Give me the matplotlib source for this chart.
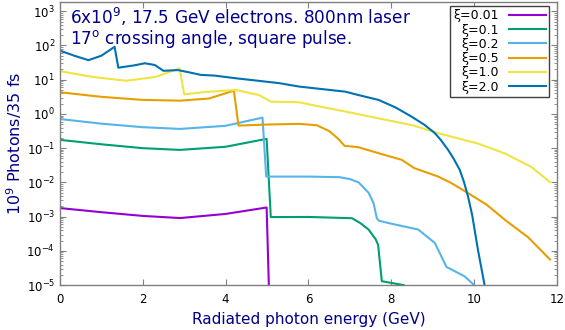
import numpy as np
import matplotlib
matplotlib.use("Agg")
import matplotlib.pyplot as plt
from matplotlib.ticker import LogLocator, NullFormatter, FixedLocator

# ---------------------------------------------------------------
# data (energy in GeV, photons in 1e9/35 fs)
# ---------------------------------------------------------------
e_001 = [0, 1, 2, 2.9, 4, 4.99, 5.05]
v_001 = [1.78e-3, 1.35e-3, 1.05e-3, 9.1e-4, 1.2e-3, 1.85e-3, 5e-6]

e_01 = [0, 1, 2, 2.9, 4, 4.99, 5.09, 6, 7.05, 7.25, 7.45, 7.62, 7.68, 7.77, 8.3]
v_01 = [0.175, 0.13, 0.10, 0.089, 0.11, 0.187, 9.7e-4, 9.8e-4, 9.0e-4,
        6.5e-4, 4.2e-4, 2.2e-4, 1.5e-4, 1.3e-5, 1.0e-5]

e_02 = [0, 1, 2, 2.9, 4, 4.89, 4.98, 6, 6.75, 7.0, 7.21, 7.45, 7.57, 7.65,
        7.70, 7.93, 8.65, 9.05, 9.33, 9.77, 10.0]
v_02 = [0.71, 0.52, 0.41, 0.365, 0.45, 0.78, 0.0148, 0.0148, 0.0142, 0.0125,
        0.010, 5.0e-3, 2.5e-3, 8.9e-4, 7.6e-4, 6.5e-4, 4.2e-4, 1.7e-4,
        3.4e-5, 1.8e-5, 1.0e-5]

e_05 = [0, 1, 2, 2.9, 3.6, 4.2, 4.31, 5.0, 5.77, 6.2, 6.5, 6.73, 6.87, 7.2,
        7.7, 8.25, 8.55, 9.13, 9.45, 9.9, 10.3, 10.75, 11.3, 11.83]
v_05 = [4.3, 3.16, 2.57, 2.44, 2.82, 4.79, 0.457, 0.49, 0.513, 0.468, 0.316,
        0.182, 0.117, 0.107, 0.0708, 0.0457, 0.0263, 0.0148, 0.00955,
        0.00447, 0.00224, 7.9e-4, 2.5e-4, 5.6e-5]

e_10 = [0, 0.8, 1.6, 2.3, 2.89, 3.0, 3.5, 4.25, 4.81, 5.09, 5.77, 6.5, 6.9,
        7.7, 8.5, 9.13, 10.1, 10.73, 11.37, 11.83]
v_10 = [17.8, 12.0, 9.3, 12.0, 21.4, 3.72, 4.37, 5.0, 3.55, 2.29, 2.19, 1.45,
        1.17, 0.74, 0.47, 0.275, 0.135, 0.0708, 0.0288, 0.0102]

e_20 = [0, 0.35, 0.69, 1.0, 1.32, 1.41, 1.8, 2.05, 2.29, 2.5, 2.85, 3.1, 3.4,
        3.73, 4.25, 5.29, 5.77, 6.89, 7.21, 7.69, 8.1, 8.49, 8.8, 9.05, 9.2,
        9.37, 9.5, 9.65, 9.75, 9.85, 9.95, 10.09, 10.25]
v_20 = [70.8, 50.1, 37.2, 50.1, 91.2, 22.4, 26.3, 30.2, 26.9, 18.2, 19.1,
        16.6, 13.8, 13.2, 11.0, 7.94, 6.31, 4.47, 3.55, 2.57, 1.55, 0.83,
        0.48, 0.275, 0.17, 0.089, 0.05, 0.0234, 0.0105, 3.9e-3, 1.12e-3,
        1.07e-4, 1.0e-5]

labels = ["ξ=0.01", "ξ=0.1", "ξ=0.2", "ξ=0.5", "ξ=1.0", "ξ=2.0"]
colors = ["#9400d3", "#009e73", "#56b4e9", "#e69f00", "#f0e442", "#0072b2"]
series = [(e_001, v_001), (e_01, v_01), (e_02, v_02),
          (e_05, v_05), (e_10, v_10), (e_20, v_20)]

x_ticks = [0, 2, 4, 6, 8, 10, 12]
y_ticks = [1e-5, 1e-4, 1e-3, 1e-2, 1e-1, 1e0, 1e1, 1e2, 1e3]

navy = "#00008b"
frame = "#808080"

plt.rcParams["font.family"] = ["DejaVu Sans"]
plt.rcParams["mathtext.fontset"] = "dejavusans"

fig = plt.figure(figsize=(5.65, 3.3), dpi=100)
ax = fig.add_axes([0.106, 0.136, 0.880, 0.858])

for (e, v), lab, col in zip(series, labels, colors):
    ax.plot(e, v, color=col, linewidth=1.5, label=lab)

ax.set_yscale("log")
ax.set_xlim(0, 12)
ax.set_ylim(1e-5, 10 ** 3.27)

ax.xaxis.set_major_locator(FixedLocator(x_ticks))
ax.set_xticklabels([str(t) for t in x_ticks])
ax.yaxis.set_major_locator(FixedLocator(y_ticks))
ax.set_yticklabels([r"$10^{%d}$" % int(np.log10(t)) for t in y_ticks])
ax.yaxis.set_minor_locator(LogLocator(base=10, subs=np.arange(2, 10), numticks=20))
ax.yaxis.set_minor_formatter(NullFormatter())

ax.tick_params(which="both", direction="in", top=True, right=True,
               color=frame, labelsize=8.5, labelcolor="black")
ax.tick_params(which="major", length=4)
ax.tick_params(which="minor", length=2)
ax.tick_params(axis="x", pad=6)
for sp in ax.spines.values():
    sp.set_color(frame)
    sp.set_linewidth(1.0)

ax.set_xlabel("Radiated photon energy (GeV)", color=navy, fontsize=11, labelpad=4)
ax.set_ylabel(r"$10^9$ Photons/35 fs", color=navy, fontsize=11.5, labelpad=2)

ax.text(0.02, 0.985, "6x10$^9$, 17.5 GeV electrons. 800nm laser\n"
        "17$^{\\rm o}$ crossing angle, square pulse.",
        transform=ax.transAxes, ha="left", va="top", color=navy,
        fontsize=12.2, linespacing=1.0)

leg = ax.legend(loc="upper right", bbox_to_anchor=(0.984, 0.985),
                markerfirst=False, fontsize=9, labelspacing=0.1,
                handlelength=3.0, handletextpad=0.8, borderpad=0.25,
                borderaxespad=0.0, fancybox=False, framealpha=1)
leg.get_frame().set_edgecolor("#404040")
leg.get_frame().set_linewidth(1.0)
# right-align the labels, gnuplot style
for col in leg._legend_handle_box.get_children():
    col.align = "right"

fig.savefig("out.png", dpi=100)
